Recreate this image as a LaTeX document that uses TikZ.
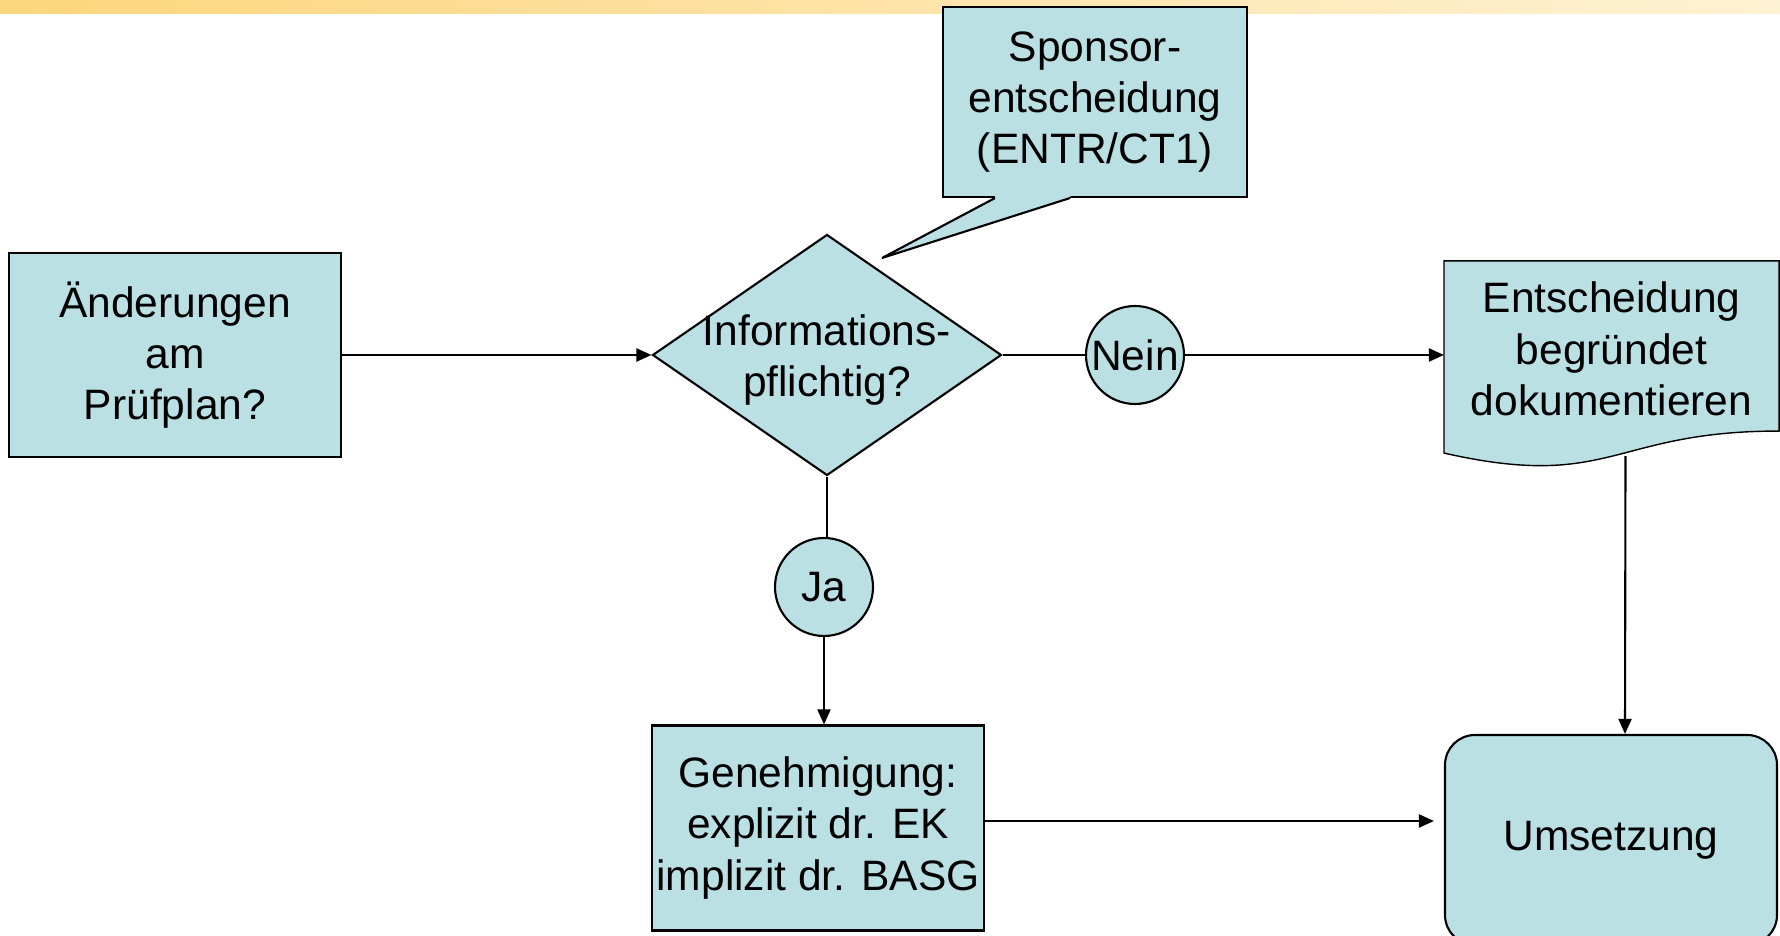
\documentclass[tikz,border=0pt]{standalone}
\usepackage{fontspec}
\setmainfont{Liberation Sans}
\usetikzlibrary{shapes.geometric,arrows.meta,backgrounds}

\definecolor{boxfill}{HTML}{BAE0E4}
\definecolor{barleft}{HTML}{FDD57C}
\definecolor{barright}{HTML}{FEF2D4}

\tikzset{
  box/.style={draw,fill=boxfill,align=center,inner sep=0pt},
  flow/.style={-{Triangle[length=1.5mm,width=1.3mm]}},
}

\begin{document}
\begin{tikzpicture}[font=\fontsize{12.1}{14.6}\selectfont, line width=0.6pt]

  \useasboundingbox (0,0) rectangle (17.8,-9.36);
  \shade[left color=barleft,right color=barright] (0,0) rectangle (17.8,-0.14);

  \node[box,minimum width=3.32cm,minimum height=2.04cm] (aend) at (1.75,-3.55) {Änderungen\\am\\Prüfplan?};

  \node[box,diamond,minimum width=3.49cm,minimum height=2.41cm] (info) at (8.27,-3.55) {};
  \node[align=center] (infotext) at ([yshift=-0.05cm]info.center) {Informations-\\pflichtig?};

  \node[box,minimum width=3.04cm,minimum height=1.90cm] (spons) at (10.95,-1.02) {Sponsor-\\entscheidung\\(ENTR/CT1)};
  \coordinate (tip) at (8.82,-2.58);
  \fill[boxfill] ([xshift=-1cm]spons.south) -- (tip) -- ([xshift=-0.25cm]spons.south)
    -- ([xshift=-0.25cm,yshift=0.03cm]spons.south) -- ([xshift=-1cm,yshift=0.03cm]spons.south) -- cycle;
  \draw ([xshift=-1cm]spons.south) -- (tip) -- ([xshift=-0.25cm]spons.south);

  \node[box,circle,minimum size=0.98cm] (nein) at (11.35,-3.55) {Nein};
  \node[box,circle,minimum size=0.98cm] (ja) at (8.24,-5.87) {Ja};

  \node[align=center,minimum width=3.33cm,minimum height=1.74cm,inner sep=0pt] (doku) at (16.115,-3.49) {Entscheidung\\begründet\\dokumentieren};
  \begin{scope}[on background layer]
    \filldraw[fill=boxfill] (doku.north west) -- (doku.north east) -- ([yshift=0.06cm]doku.south east)
      .. controls ([yshift=0.06cm]doku.south) and ([yshift=-0.54cm]doku.south) .. ([yshift=-0.16cm]doku.south west) -- cycle;
  \end{scope}

  \node[box,minimum width=3.32cm,minimum height=2.05cm] (gen) at (8.18,-8.28) {Genehmigung:\\explizit dr. EK\\implizit dr. BASG};
  \node[box,rounded corners=0.3cm,minimum width=3.32cm,minimum height=2.1cm] (ums) at (16.11,-8.40) {Umsetzung};

  \draw[flow] (aend.east) -- (info.west);
  \draw (info.east) -- (nein.west);
  \draw[flow] (nein.east) -- (nein -| doku.west);
  \draw (info.south) -- (info.south |- ja.north);
  \draw[flow] (ja.south) -- (ja.south |- gen.north);
  \draw[flow,shorten >=0.1cm] ([yshift=0.07cm]gen.east) -- ([yshift=0.07cm]gen.east -| ums.west);
  \draw[flow] ([xshift=0.14cm,yshift=-0.19cm]doku.south) -- ([xshift=0.14cm]ums.north);

\end{tikzpicture}
\end{document}
